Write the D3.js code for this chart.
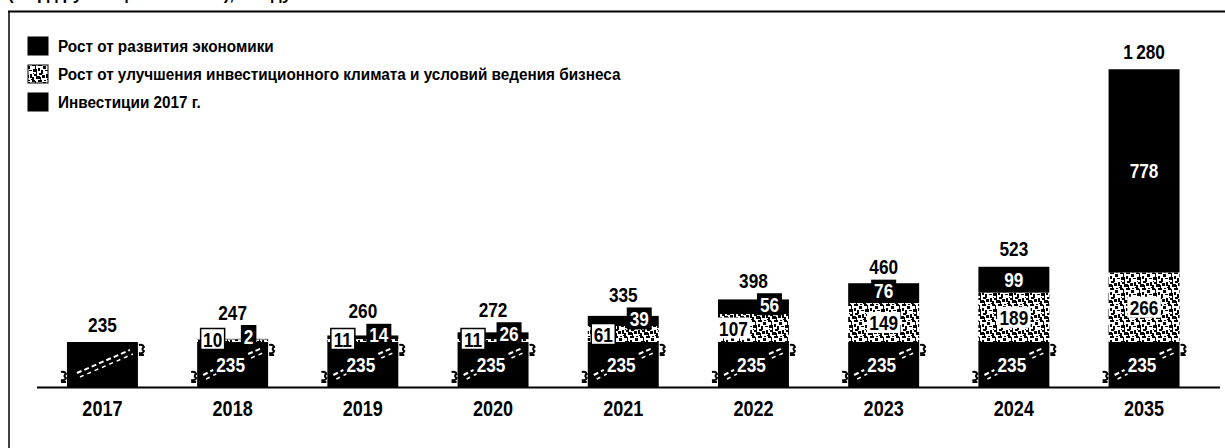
<!DOCTYPE html>
<html><head><meta charset="utf-8">
<script src="https://cdn.jsdelivr.net/npm/d3@7"></script>
<style>
body{margin:0;background:#fff}
svg{display:block}
text{font-family:"Liberation Sans",Arial,sans-serif;font-weight:bold}
</style>
</head><body><svg id="c" width="1225" height="448"></svg>
<script>
// ---- data ----
const categories = ["2017","2018","2019","2020","2021","2022","2023","2024","2035"];
const investments2017 = [235,235,235,235,235,235,235,235,235];
const climateGrowth   = [0,10,11,11,61,107,149,189,266];
const economyGrowth   = [0,2,14,26,39,56,76,99,778];
const totals          = [235,247,260,272,335,398,460,523,1280];
const legendLabels = [
  "Рост от развития экономики",
  "Рост от улучшения  инвестиционного климата  и условий ведения бизнеса",
  "Инвестиции 2017 г."
];
const titleText = "(млрд руб. в ценах 2017 г.), в году";

// ---- setup ----
const svg = d3.select("#c");
const fmt = d3.formatLocale({decimal:",", thousands:"\u2009", grouping:[3], currency:["",""]}).format(",d");
const SX = 0.82; // condensed look

function ctext(parent, x, y, str, size, fill, anchor, sx) {
  return parent.append("text")
    .attr("transform", `translate(${x},${y}) scale(${sx||SX},1)`)
    .attr("dy","0.36em").attr("text-anchor", anchor||"middle")
    .attr("font-size", size).attr("fill", fill||"#000").text(str);
}

const x = d3.scaleBand().domain(categories).range([37, 1209.5]).paddingInner(0.455).paddingOuter(0.23);
// broken axis: the 2017 base is compressed
const y = d3.scaleLinear().domain([0, 235, 1280]).range([387, 342, 69]);

// texture pattern
const defs = svg.append("defs");
const pat = defs.append("pattern").attr("id","speck").attr("patternUnits","userSpaceOnUse")
  .attr("width",16).attr("height",16);
pat.append("rect").attr("width",16).attr("height",16).attr("fill","#fff");
const specks = [[0,0,3,2],[3,1,1,4],[6,0,4,2],[11,2,3,3],[13,6,3,1],[1,5,4,3],[6,4,2,3],[9,6,2,4],
  [2,10,3,2],[4,12,4,3],[10,11,3,3],[14,10,2,4],[0,13,2,3],[8,13,1,3],[12,0,2,1],[7,9,3,2],[4,8,1,2],[15,15,1,1],[1,9,1,1]];
specks.forEach(s=>pat.append("rect").attr("x",s[0]).attr("y",s[1]).attr("width",s[2]).attr("height",s[3]).attr("fill","#000"));

// frame
svg.append("text").attr("x",8).attr("y",0).attr("font-size",17).text(titleText);
svg.append("line").attr("x1",8).attr("x2",1225).attr("y1",11.5).attr("y2",11.5).attr("stroke","#000").attr("stroke-width",2);
svg.append("line").attr("x1",9).attr("x2",9).attr("y1",11).attr("y2",448).attr("stroke","#000").attr("stroke-width",1.5);

// legend
const legFills = ["#000","url(#speck)","#000"];
const legY = [46, 74, 102];
legendLabels.forEach((t,i)=>{
  svg.append("rect").attr("x",28).attr("y",legY[i]-9).attr("width",20).attr("height",18)
    .attr("fill",legFills[i]).attr("stroke","#000").attr("stroke-width",1);
  ctext(svg, 58, legY[i], t, 17, "#000", "start", 0.9);
});

// bars
const g = svg.append("g");
categories.forEach((c,i)=>{
  const x0 = x(c), w = x.bandwidth(), x1 = x0 + w, cx = x0 + w/2;
  const b = investments2017[i], m = climateGrowth[i], t = economyGrowth[i];
  const yb = y(b), ym = y(b+m), yt = y(b+m+t);
  // base
  g.append("rect").attr("x",x0).attr("y",yb).attr("width",w).attr("height",y(0)-yb).attr("fill","#000");
  // middle
  if (m>0) g.append("rect").attr("x",x0).attr("y",ym).attr("width",w).attr("height",yb-ym).attr("fill","url(#speck)");
  // top
  if (t>0) g.append("rect").attr("x",x0).attr("y",yt).attr("width",w).attr("height",ym-yt).attr("fill","#000");

  // break marks
  const yB = y(0);
  g.append("path").attr("d",`M${x0-6},${yB-15} q4,-1 5,2 q-3,2 0,4 q-1,3 -5,2 M${x0-6},${yB-5} h5`).attr("fill","none").attr("stroke","#000").attr("stroke-width",2);
  g.append("path").attr("d",`M${x1+1},${yb+3} q4,-1 5,2 q-3,2 0,4 q-1,3 -5,2 M${x1+1},${yb+13} h5`).attr("fill","none").attr("stroke","#000").attr("stroke-width",2);
  const dash = (xa,ya,xb,yb2)=>{
    g.append("line").attr("x1",xa).attr("y1",ya).attr("x2",xb).attr("y2",yb2).attr("stroke","#fff").attr("stroke-width",2).attr("stroke-dasharray","5 3");
    g.append("line").attr("x1",xa+3).attr("y1",ya+4).attr("x2",xb+3).attr("y2",yb2+4).attr("stroke","#fff").attr("stroke-width",1.5).attr("stroke-dasharray","4 4");
  };
  if (m===0 && t===0) {
    dash(x0+10, yB-14, x1-8, yb+8);
  } else {
    dash(x0+6, yB-12, x0+16, yB-17);
    dash(x1-20, yb+12, x1-6, yb+6);
    ctext(g, cx-2, (yb+yB)/2, b, 21, "#fff");
  }

  // segment labels
  let labelTop = yt;
  if (m>0) {
    const small = (yb-ym) < 20;
    const mx = (yb-ym) < 30 ? cx-20 : cx;
    const my = small ? Math.min((ym+yb)/2, yb-3) : (ym+yb)/2;
    const bw = String(m).length*9.5+5, bh = 21;
    g.append("rect").attr("x",mx-bw/2).attr("y",my-bh/2).attr("width",bw).attr("height",bh)
      .attr("fill","#fff").attr("stroke",small?"#000":"none").attr("stroke-width",1.5);
    ctext(g, mx, my, m, 21, "#000");
    labelTop = Math.min(labelTop, my-bh/2);
  }
  if (t>0) {
    const small = (ym-yt) < 20;
    const tx = (yb-ym) < 30 ? cx+16 : cx;
    const ty = small ? Math.min((yt+ym)/2 - 2.5, yb-6) : (yt+ym)/2;
    const bw = String(t).length*9.5+6, bh = 22;
    if (small) {
      g.append("rect").attr("x",tx-bw/2).attr("y",ty-bh/2).attr("width",bw).attr("height",bh).attr("fill","#000");
      labelTop = Math.min(labelTop, ty-bh/2);
    }
    ctext(g, tx, ty, t, 21, "#fff");
  }
  // total
  const gap = labelTop < yt ? 13 : 18;
  ctext(g, cx, Math.min(labelTop, yt)-gap, fmt(totals[i]), 21, "#000");
});

// axis
svg.append("line").attr("x1",37).attr("x2",1220).attr("y1",y(0)+0.5).attr("y2",y(0)+0.5).attr("stroke","#000").attr("stroke-width",2);
const ax = svg.append("g").attr("transform",`translate(0,${y(0)})`).call(d3.axisBottom(x).tickSize(0).tickPadding(13));
ax.select(".domain").remove();
ax.selectAll("text").attr("font-size",22).attr("fill","#000").attr("transform",`scale(${SX},1)`)
  .style("font-family",'"Liberation Sans",Arial,sans-serif').style("font-weight","bold");
</script>
</body></html>
